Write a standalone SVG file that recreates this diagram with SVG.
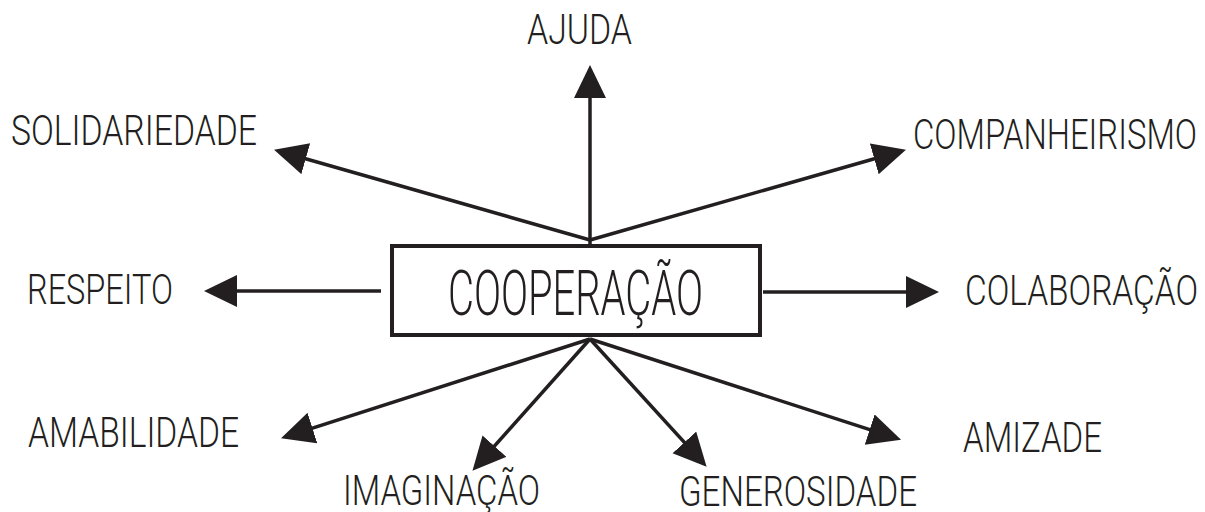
<svg xmlns="http://www.w3.org/2000/svg" width="1205" height="512" viewBox="0 0 1205 512">
<style>
.lbl{font-family:Roboto,"Liberation Sans",sans-serif;font-weight:300;font-size:42px;fill:#231f20}
.main{font-size:63px}
.con line{stroke:#231f20;stroke-width:3.5;fill:none;marker-end:url(#ah)}
</style>
<defs>
<marker id="ah" markerUnits="userSpaceOnUse" markerWidth="34" markerHeight="34" viewBox="0 0 34 34" refX="22" refY="16" orient="auto">
<path d="M0,0 L33,16 L0,32 Z" fill="#231f20"/>
</marker>
</defs>
<rect width="1205" height="512" fill="#ffffff"/>
<g id="connectors" class="con">
<line x1="590" y1="244" x2="590" y2="76"/>
<line x1="590" y1="240" x2="284.6" y2="152.7"/>
<line x1="590" y1="240" x2="895.4" y2="152.7"/>
<line x1="381" y1="291" x2="215" y2="291"/>
<line x1="763" y1="292" x2="928" y2="292"/>
<line x1="590" y1="339" x2="291.5" y2="434.8"/>
<line x1="590" y1="339" x2="479.8" y2="462.5"/>
<line x1="590" y1="339" x2="699.2" y2="458.6"/>
<line x1="590" y1="339" x2="890.6" y2="436.4"/>
</g>
<g id="cooperacao">
<rect x="392" y="246" width="368" height="89" fill="#ffffff" stroke="#231f20" stroke-width="4"/>
<text class="lbl main" x="448" y="315" textLength="255" lengthAdjust="spacingAndGlyphs">COOPERAÇÃO</text>
</g>
<g id="ajuda"><text class="lbl" x="527" y="44" textLength="105" lengthAdjust="spacingAndGlyphs">AJUDA</text></g>
<g id="solidariedade"><text class="lbl" x="11" y="145" textLength="246" lengthAdjust="spacingAndGlyphs">SOLIDARIEDADE</text></g>
<g id="companheirismo"><text class="lbl" x="913" y="149" textLength="284" lengthAdjust="spacingAndGlyphs">COMPANHEIRISMO</text></g>
<g id="respeito"><text class="lbl" x="27" y="304" textLength="146" lengthAdjust="spacingAndGlyphs">RESPEITO</text></g>
<g id="colaboracao"><text class="lbl" x="965" y="305" textLength="233" lengthAdjust="spacingAndGlyphs">COLABORAÇÃO</text></g>
<g id="amabilidade"><text class="lbl" x="28" y="447" textLength="211" lengthAdjust="spacingAndGlyphs">AMABILIDADE</text></g>
<g id="amizade"><text class="lbl" x="963" y="452" textLength="139" lengthAdjust="spacingAndGlyphs">AMIZADE</text></g>
<g id="imaginacao"><text class="lbl" x="343" y="505" textLength="197" lengthAdjust="spacingAndGlyphs">IMAGINAÇÃO</text></g>
<g id="generosidade"><text class="lbl" x="679" y="506" textLength="238" lengthAdjust="spacingAndGlyphs">GENEROSIDADE</text></g>
</svg>
